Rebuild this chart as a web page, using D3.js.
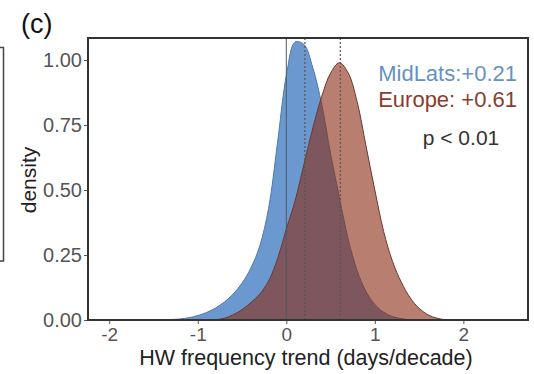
<!DOCTYPE html>
<html>
<head>
<meta charset="utf-8">
<script src="https://cdn.jsdelivr.net/npm/d3@7"></script>
<style>
  body { margin: 0; background: #fff; }
  svg { display: block; font-family: "Liberation Sans", Arial, sans-serif; }
</style>
</head>
<body>
<svg id="chart" width="534" height="374"></svg>
<script>
// trend grid (days/decade) and density
let trendX = [-1.5, -1.4, -1.3, -1.2, -1.1, -1.0, -0.9, -0.8, -0.7, -0.6, -0.5, -0.4, -0.3, -0.2, -0.1,
    0.0, 0.1, 0.2, 0.3, 0.4, 0.5, 0.6, 0.7, 0.8, 0.9, 1.0, 1.1, 1.2, 1.3, 1.4, 1.5, 1.6, 1.7, 1.8, 1.9];
let midlatsDensity = [0, 0.001, 0.002, 0.004, 0.009, 0.017, 0.029, 0.046, 0.069, 0.10, 0.142, 0.20, 0.285, 0.43, 0.68,
    0.94, 1.07, 1.06, 0.97, 0.83, 0.64, 0.47, 0.31, 0.19, 0.11, 0.06, 0.03, 0.013, 0.005, 0.001, 0, 0, 0, 0, 0];
let europeDensity = [0, 0, 0, 0, 0, 0, 0, 0.001, 0.007, 0.02, 0.04, 0.067, 0.10, 0.15, 0.235,
    0.35, 0.46, 0.60, 0.74, 0.86, 0.95, 0.99, 0.95, 0.84, 0.67, 0.50, 0.34, 0.225, 0.145, 0.085, 0.045, 0.02, 0.007, 0.001, 0];
let seriesNames = ["MidLats", "Europe"];
let seriesTrends = [0.21, 0.61];
let xTicks = [-2, -1, 0, 1, 2];
let yTicks = [0, 0.25, 0.5, 0.75, 1.0];

let svg = d3.select("#chart"),
    margin = {top: 38, right: 6, bottom: 54, left: 88},
    width = +svg.attr("width"),
    height = +svg.attr("height");

let x = d3.scaleLinear()
    .domain([-2.24, 2.73])
    .range([margin.left, width - margin.right]);

let y = d3.scaleLinear()
    .domain([0, 1.085])
    .range([height - margin.bottom, margin.top]);

// clip to panel
svg.append("clipPath").attr("id", "panel")
    .append("rect")
    .attr("x", margin.left).attr("y", margin.top)
    .attr("width", x.range()[1] - x.range()[0])
    .attr("height", y.range()[0] - y.range()[1]);

let area = d3.area()
    .x((d, i) => x(trendX[i]))
    .y0(y(0))
    .y1(d => y(d))
    .curve(d3.curveCatmullRom.alpha(0.5));

let line = d3.line()
    .x((d, i) => x(trendX[i]))
    .y(d => y(d))
    .curve(d3.curveCatmullRom.alpha(0.5));

let plot = svg.append("g").attr("clip-path", "url(#panel)");

plot.append("path")
    .datum(midlatsDensity)
    .attr("d", area)
    .attr("fill", "#6b99cf");
plot.append("path")
    .datum(midlatsDensity)
    .attr("d", line)
    .attr("fill", "none")
    .attr("stroke", "#4f7aa8")
    .attr("stroke-width", 1);

plot.append("path")
    .datum(europeDensity)
    .attr("d", area)
    .attr("fill", "#882a12")
    .attr("fill-opacity", 0.6);
plot.append("path")
    .datum(europeDensity)
    .attr("d", line)
    .attr("fill", "none")
    .attr("stroke", "#6a3a33")
    .attr("stroke-width", 1);

// zero line and mean trend lines
plot.append("line")
    .attr("x1", x(0)).attr("x2", x(0))
    .attr("y1", y.range()[0]).attr("y2", y.range()[1])
    .attr("stroke", "#4d5866")
    .attr("stroke-width", 1);

plot.selectAll("line.trend")
    .data(seriesTrends)
    .enter()
    .append("line")
    .attr("class", "trend")
    .attr("x1", d => x(d)).attr("x2", d => x(d))
    .attr("y1", y.range()[0]).attr("y2", y.range()[1])
    .attr("stroke", "#555")
    .attr("stroke-width", 1.2)
    .attr("stroke-dasharray", "2,2");

// axes
let xAxis = d3.axisBottom(x).tickValues(xTicks).tickSize(4).tickPadding(2)
    .tickFormat(d => d < 0 ? "-" + Math.abs(d) : d);
let yAxis = d3.axisLeft(y).tickValues(yTicks).tickSize(4).tickPadding(2)
    .tickFormat(d3.format(".2f"));

let gx = svg.append("g")
    .attr("transform", "translate(0," + y.range()[0] + ")")
    .call(xAxis);
let gy = svg.append("g")
    .attr("transform", "translate(" + margin.left + ",0)")
    .call(yAxis);

[gx, gy].forEach(g => {
    g.select(".domain").remove();
    g.selectAll(".tick line").attr("stroke", "#555");
    g.selectAll(".tick text")
        .attr("fill", "#555")
        .style("font-size", "20px");
});
gx.selectAll(".tick text")
    .style("font-size", "19px")
    .attr("y", 21)
    .attr("dy", null);

// panel border
svg.append("rect")
    .attr("x", margin.left).attr("y", margin.top)
    .attr("width", x.range()[1] - x.range()[0])
    .attr("height", y.range()[0] - y.range()[1])
    .attr("fill", "none")
    .attr("stroke", "#333")
    .attr("stroke-width", 2);

// axis titles
svg.append("text")
    .attr("x", 306)
    .attr("y", 365)
    .attr("text-anchor", "middle")
    .attr("fill", "#222")
    .style("font-size", "21.5px")
    .text("HW frequency trend (days/decade)");

svg.append("text")
    .attr("transform", "translate(36,180) rotate(-90)")
    .attr("text-anchor", "middle")
    .attr("fill", "#222")
    .style("font-size", "21px")
    .text("density");

// panel letter
svg.append("text")
    .attr("x", 21).attr("y", 33)
    .attr("fill", "#111")
    .style("font-size", "27px")
    .text("(c)");

// labels
let labelColors = ["#6592c6", "#8a3d2e"];
svg.selectAll("text.series")
    .data(seriesNames)
    .enter()
    .append("text")
    .attr("class", "series")
    .attr("x", 517)
    .attr("y", (d, i) => 81 + i * 26)
    .attr("text-anchor", "end")
    .attr("fill", (d, i) => labelColors[i])
    .style("font-size", "22px")
    .text((d, i) => d + ":" + (i === 1 ? " " : "") + "+" + seriesTrends[i].toFixed(2));

svg.append("text")
    .attr("x", 461).attr("y", 145)
    .attr("text-anchor", "middle")
    .attr("fill", "#333")
    .style("font-size", "21px")
    .text("p < 0.01");

// fragment of neighbouring panel at left edge
svg.append("path")
    .attr("d", "M0,47.5H3.5V261H0")
    .attr("fill", "none")
    .attr("stroke", "#444")
    .attr("stroke-width", 1.5);
</script>
</body>
</html>
